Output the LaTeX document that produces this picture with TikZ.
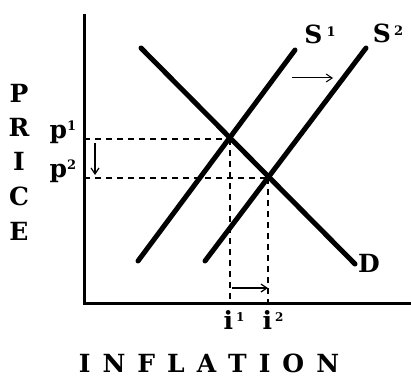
\documentclass[tikz,border=0pt]{standalone}
\usepackage{fontspec}
\setmainfont{DejaVu Serif}
\usetikzlibrary{arrows.meta}
\begin{document}
\begin{tikzpicture}[x=1pt,y=-1pt,
  curve/.style={line width=5pt,line cap=round},
  axis/.style={line width=3pt},
  guide/.style={line width=1.4pt,dash pattern=on 6pt off 5pt},
  movearrow/.style={line width=1.2pt,-{Straight Barb[length=6pt,width=8pt]}},
  lbl/.style={font=\fontsize{25}{27}\selectfont\bfseries,inner sep=0pt}]
\useasboundingbox (0,0) rectangle (411,377);
% axes
\coordinate (top) at (84,14);
\coordinate (orig) at (84,303);
\coordinate (right) at (411,303);
\draw[axis] (top) -- (orig) -- (right);
% curves
\coordinate (d1) at (141,48); \coordinate (d2) at (355,264);
\coordinate (s1a) at (138,261); \coordinate (s1b) at (295,50);
\coordinate (s2a) at (205,261); \coordinate (s2b) at (366,48);
\draw[curve] (d1) -- (d2);
\draw[curve] (s1a) -- (s1b);
\draw[curve] (s2a) -- (s2b);
% equilibria
\coordinate (e1) at (230,139);
\coordinate (e2) at (268,178);
\coordinate (yp1) at (84,139);
\coordinate (yp2) at (84,178);
\coordinate (xi1) at (230,303);
\coordinate (xi2) at (268,303);
\draw[guide] (yp1) -- (e1);
\draw[guide] (yp2) -- (e2);
\draw[guide] (e1) -- (xi1);
\draw[guide] (e2) -- (xi2);
% shift arrows
\coordinate (da) at (95,143); \coordinate (db) at (95,175);
\draw[movearrow] (da) -- (db);
\coordinate (ra) at (232,288); \coordinate (rb) at (268,288);
\draw[movearrow] (ra) -- (rb);
\coordinate (ta) at (292,78); \coordinate (tb) at (333,78);
\draw[movearrow,line width=1pt] (ta) -- (tb);
% labels
\node[lbl] (S1) at (320,34) {S\hspace{4pt}\raisebox{7pt}{\fontsize{13}{13}\selectfont 1}};
\node[lbl] (S2) at (388,33) {S\hspace{3pt}\raisebox{7pt}{\fontsize{13}{13}\selectfont 2}};
\node[lbl] (D) at (369,263) {D};
\node[lbl] (p1) at (63,132) {p\raisebox{8pt}{\fontsize{13}{13}\selectfont 1}};
\node[lbl] (p2) at (63,171) {p\raisebox{8pt}{\fontsize{13}{13}\selectfont 2}};
\node[lbl] (i1) at (234,320) {i\hspace{3pt}\raisebox{8pt}{\fontsize{12}{12}\selectfont 1}};
\node[lbl] (i2) at (273,320) {i\hspace{3pt}\raisebox{8pt}{\fontsize{12}{12}\selectfont 2}};
\node[lbl] (P) at (19,93) {P};
\node[lbl] (R) at (19,127) {R};
\node[lbl] (I) at (19,161) {I};
\node[lbl] (C) at (19,196) {C};
\node[lbl] (E) at (19,231) {E};
\node[lbl,anchor=base] (inf) at (209,372) {I\hspace{12pt}N\hspace{12pt}F\hspace{12pt}L\hspace{12pt}A\hspace{12pt}T\hspace{12pt}I\hspace{12pt}O\hspace{12pt}N};
\end{tikzpicture}
\end{document}
